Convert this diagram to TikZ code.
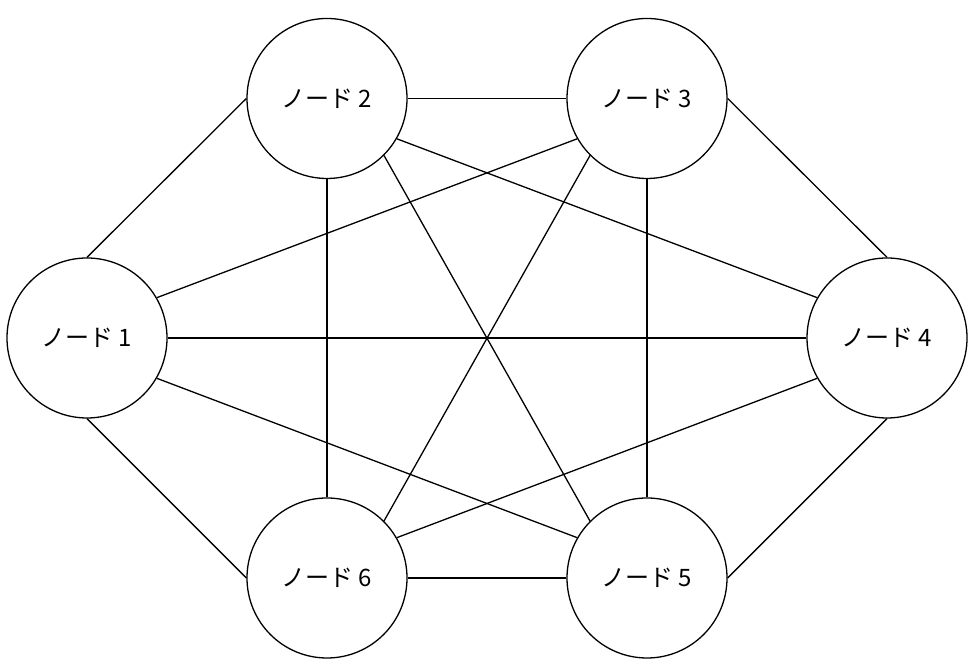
\documentclass[tikz,border=0pt]{standalone}
\usepackage{fontspec}
\newfontfamily\jpfont{Noto Sans CJK JP}

\begin{document}
\begin{tikzpicture}[
  x=0.5pt, y=0.5pt,
  vertex/.style={circle, draw, line width=0.65pt, minimum size=80pt, inner sep=0pt, font=\jpfont\fontsize{12}{14}\selectfont},
  edge/.style={draw, line width=0.65pt}
]
  \useasboundingbox (0,0) rectangle (978,672);

  % ノード
  \node[vertex] (n1) at (87,334) {ノード\hspace{2.5pt}1};
  \node[vertex] (n2) at (327,573.5) {ノード\hspace{2.5pt}2};
  \node[vertex] (n3) at (647,573.5) {ノード\hspace{2.5pt}3};
  \node[vertex] (n4) at (887,334) {ノード\hspace{2.5pt}4};
  \node[vertex] (n5) at (647,94) {ノード\hspace{2.5pt}5};
  \node[vertex] (n6) at (327,94) {ノード\hspace{2.5pt}6};

  % 外周
  \draw[edge] (n1.90) -- (n2.180);
  \draw[edge] (n2.0) -- (n3.180);
  \draw[edge] (n3.0) -- (n4.90);
  \draw[edge] (n4.270) -- (n5.0);
  \draw[edge] (n5.180) -- (n6.0);
  \draw[edge] (n6.180) -- (n1.270);

  % 内側の辺
  \draw[edge] (n1.30) -- (n3.210);
  \draw[edge] (n1.0) -- (n4.180);
  \draw[edge] (n1.-30) -- (n5.150);
  \draw[edge] (n2.-30) -- (n4.150);
  \draw[edge] (n2.-45) -- (n5.135);
  \draw[edge] (n2.270) -- (n6.90);
  \draw[edge] (n3.225) -- (n6.45);
  \draw[edge] (n3.270) -- (n5.90);
  \draw[edge] (n4.210) -- (n6.30);
\end{tikzpicture}
\end{document}
